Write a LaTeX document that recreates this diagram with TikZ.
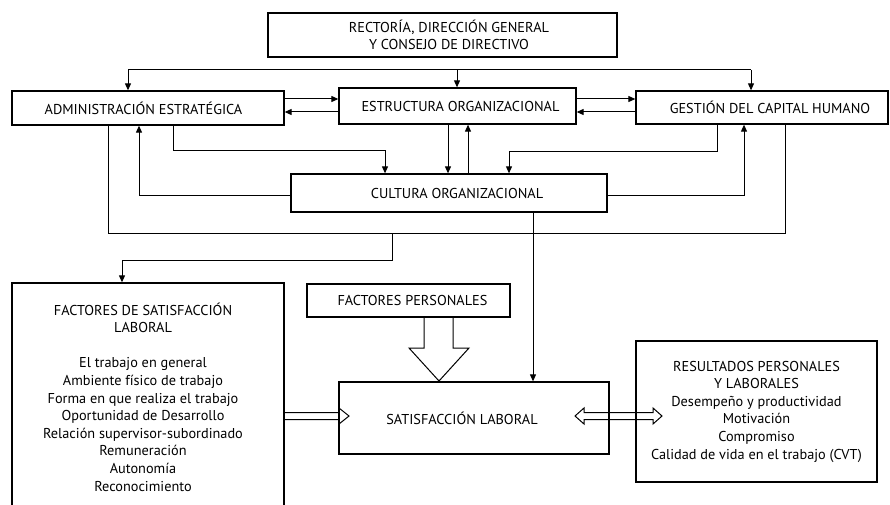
\documentclass[tikz,border=0pt]{standalone}
\usepackage{fontspec}
\setmainfont{PT Sans}
\usetikzlibrary{arrows.meta}
\begin{document}
\begin{tikzpicture}[x=1pt,y=-1pt,
  box/.style={draw, line width=1.3pt, inner sep=0pt, align=center, font=\fontsize{14.3}{17.6}\selectfont},
  txt/.style={inner sep=0pt, align=center, font=\fontsize{14.3}{17.6}\selectfont},
  conn/.style={line width=1pt, -{Triangle[length=7pt,width=6pt]}},
  plain/.style={line width=1pt},
  hollow/.style={line width=1pt, line join=miter}]
\useasboundingbox (0,0) rectangle (890,505);

% boxes
\node[box, minimum width=349pt, minimum height=44pt] (rd) at (442.5,35)
  {\hspace*{13pt}RECTORÍA, DIRECCIÓN GENERAL\\\hspace*{13pt}Y CONSEJO DE DIRECTIVO};
\node[box, minimum width=272pt, minimum height=34pt] (ae) at (148,108) {\hspace*{-9pt}ADMINISTRACIÓN ESTRATÉGICA};
\node[box, minimum width=237pt, minimum height=36pt] (eo) at (457.5,106) {\hspace*{6pt}ESTRUCTURA ORGANIZACIONAL};
\node[box, minimum width=252pt, minimum height=33pt] (gch) at (762,107.5) {\hspace*{16pt}GESTIÓN DEL CAPITAL HUMANO};
\node[box, minimum width=316pt, minimum height=38pt] (co) at (449,193) {\hspace*{16pt}CULTURA ORGANIZACIONAL};
\node[box, minimum width=272pt, minimum height=240pt] (fsl) at (148,403) {};
\node[txt] (fsltxt) at (143,397) {FACTORES DE SATISFACCIÓN\\LABORAL\\[17.6pt]
  El trabajo en general\\Ambiente físico de trabajo\\Forma en que realiza el trabajo\\
  Oportunidad de Desarrollo\\Relación supervisor-subordinado\\Remuneración\\Autonomía\\Reconocimiento};
\node[box, minimum width=203pt, minimum height=33pt] (fp) at (408.5,300.5) {\hspace*{8pt}FACTORES PERSONALES};
\node[box, minimum width=270pt, minimum height=72pt] (sl) at (474,418) {\hspace*{-24pt}SATISFACCIÓN LABORAL};
\node[box, minimum width=241pt, minimum height=141pt] (rpl) at (756.5,411.5)
  {RESULTADOS PERSONALES\\Y LABORALES\\Desempeño y productividad\\Motivación\\Compromiso\\Calidad de vida en el trabajo (CVT)};

% top distribution line
\coordinate (tl) at (128,70);
\coordinate (tm) at (457,70);
\coordinate (tr) at (751,70);
\draw[plain] (tl) -- (tr);
\draw[conn] (tl) -- (tl |- ae.north);
\draw[conn] (tm) -- (tm |- eo.north);
\draw[conn] (tr) -- (tr |- gch.north);

% horizontal exchanges
\draw[conn] (ae.east |- 0,99) -- (eo.west |- 0,99);
\draw[conn] (eo.west |- 0,112) -- (ae.east |- 0,112);
\draw[conn] (eo.east |- 0,99) -- (gch.west |- 0,99);
\draw[conn] (gch.west |- 0,112) -- (eo.east |- 0,112);

% to / from cultura
\draw[conn] (ae.south -| 173,0) |- (385,151) -- (co.north -| 385,0);
\draw[conn] (eo.south -| 448,0) -- (co.north -| 448,0);
\draw[conn] (co.north -| 468,0) -- (eo.south -| 468,0);
\draw[conn] (gch.south -| 717,0) |- (509,152) -- (co.north -| 509,0);
\draw[conn] (co.west |- 0,195) -| (ae.south -| 139,0);
\draw[conn] (co.east |- 0,195) -| (gch.south -| 744,0);

% big loop
\draw[plain] (ae.south -| 108,0) |- (785,233) -- (gch.south -| 785,0);
\coordinate (br) at (392,233);
\draw[conn] (br) |- (122,260) -- (fsl.north -| 122,0);
\draw[conn] (co.south -| 533,0) -- (sl.north -| 533,0);

% hollow arrows
\draw[hollow] (fp.south -| 424,0) -- (424,348) -- (409,348) -- (439,381) -- (469,348) -- (453,348) -- (fp.south -| 453,0);
\draw[hollow] (fsl.east |- 0,412.5) -- (339,412.5) -- (339,408) -- (349,416) -- (339,424) -- (339,419.5) -- (fsl.east |- 0,419.5);
\draw[hollow] (575,416) -- (584,408) -- (584,412.5) -- (653,412.5) -- (653,408) -- (662,416) -- (653,424) -- (653,419.5) -- (584,419.5) -- (584,424) -- cycle;
\end{tikzpicture}
\end{document}
